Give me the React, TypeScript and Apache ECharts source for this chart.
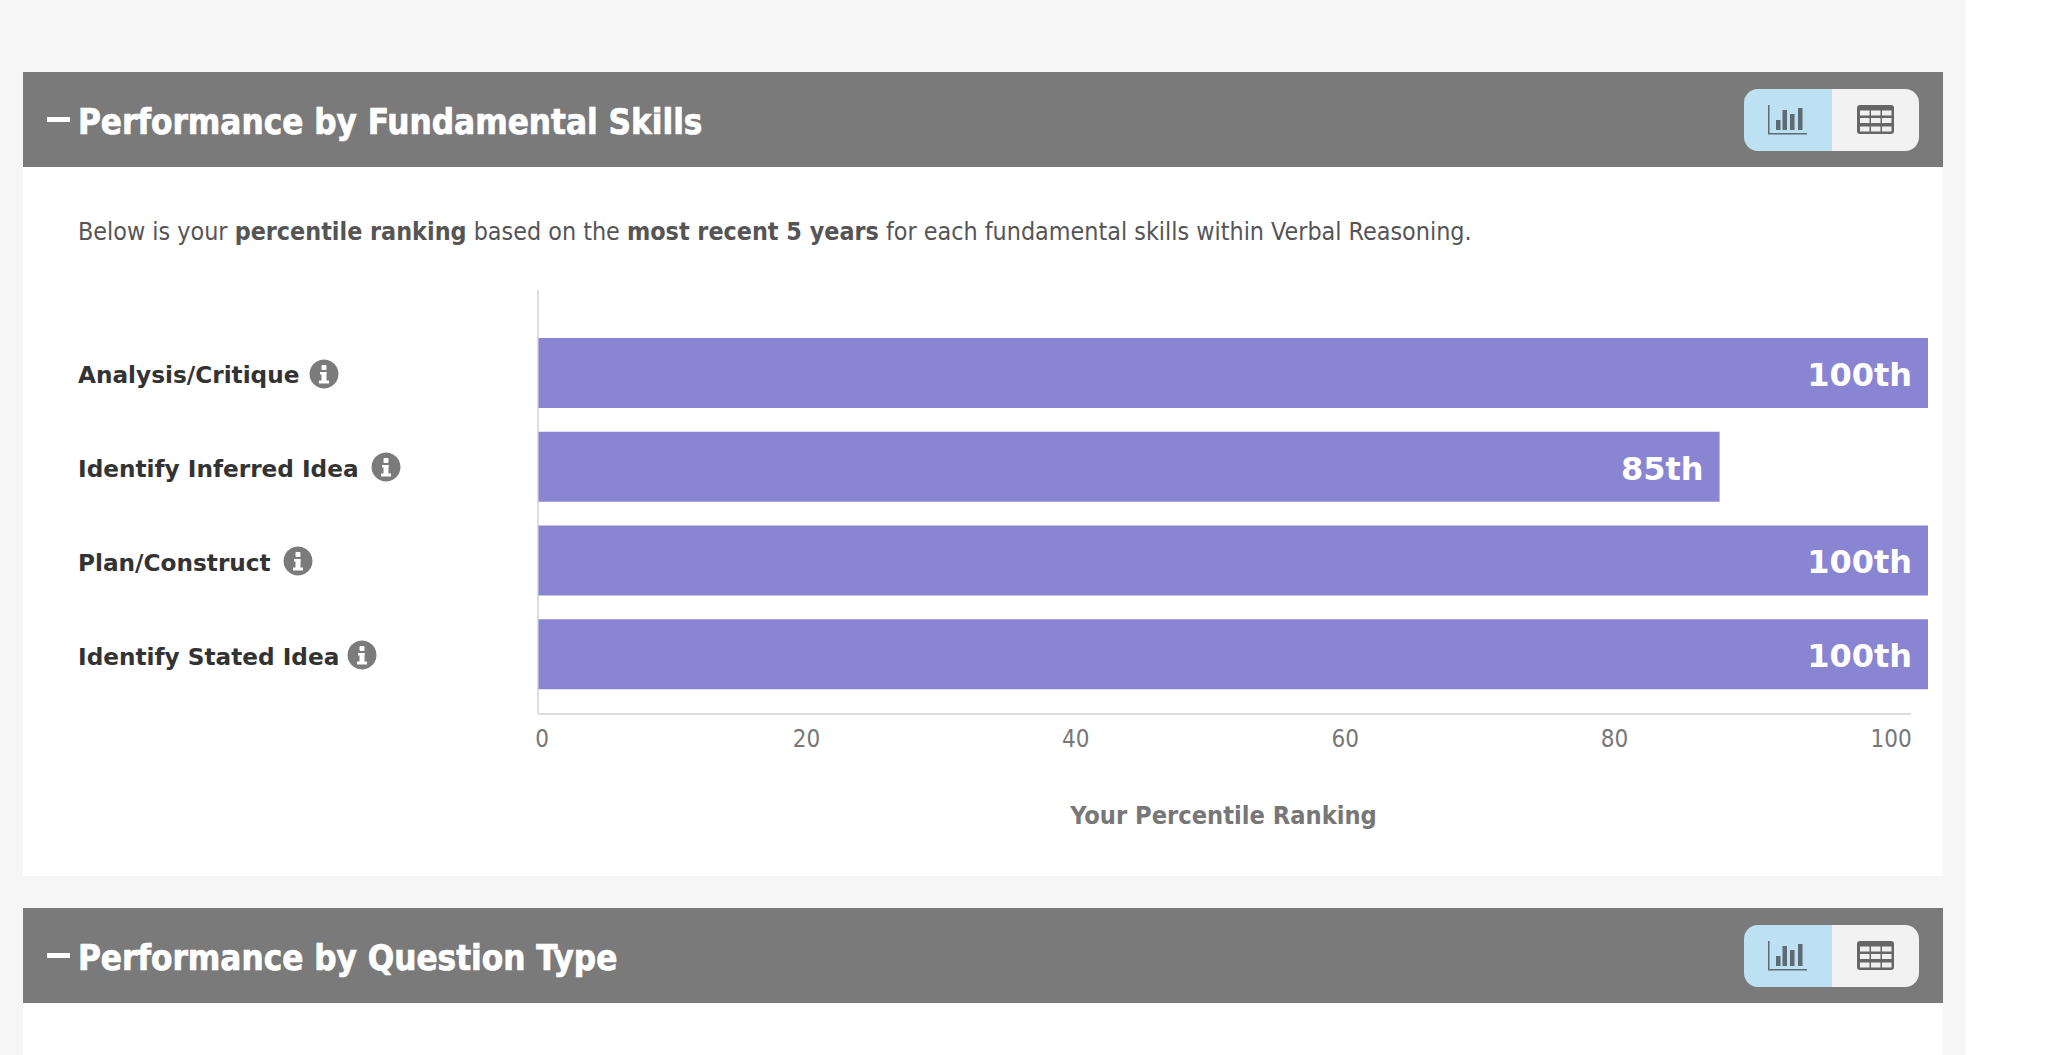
import React, { useEffect, useRef } from "react";
import * as echarts from "echarts";

const categories = ["Analysis/Critique", "Identify Inferred Idea", "Plan/Construct", "Identify Stated Idea"];
const percentiles = [100, 85, 100, 100];
const sectionTitles = ["Performance by Fundamental Skills", "Performance by Question Type"];
const descriptionParts = [
  ["n", "Below is your "],
  ["b", "percentile ranking"],
  ["n", " based on the "],
  ["b", "most recent 5 years"],
  ["n", " for each fundamental skills within Verbal Reasoning."],
];
const axisTitle = "Your Percentile Ranking";

const FONT = "'DejaVu Sans Condensed', 'DejaVu Sans', sans-serif";
const LABEL_FONT = "'DejaVu Sans', sans-serif";

function rect(x: number, y: number, w: number, h: number, fill: string, r: number | number[] = 0) {
  return { type: "rect", silent: true, shape: { x, y, width: w, height: h, r }, style: { fill } };
}

function toggle(dy: number) {
  const c = "#5d6b75";
  const t = "#666666";
  const out: any[] = [
    rect(1744, 89 + dy, 88, 62, "#bde0f2", [14, 0, 0, 14]),
    rect(1832, 89 + dy, 87, 62, "#f2f2f2", [0, 14, 14, 0]),
    rect(1768, 105 + dy, 1.5, 29, c),
    rect(1768, 133 + dy, 39, 1.5, c),
    rect(1776, 120 + dy, 4.5, 10, c),
    rect(1782.5, 110 + dy, 4.5, 20, c),
    rect(1790, 114 + dy, 4.5, 16, c),
    rect(1798, 108 + dy, 4.5, 22, c),
    rect(1857, 105 + dy, 37, 29, t, 3),
  ];
  [1860, 1871, 1882].forEach((x) =>
    [110.5, 118, 126.5].forEach((y) => out.push(rect(x, y + dy, 9.5, 5, "#f0f0f0")))
  );
  return out;
}

function header(dy: number, title: string) {
  return [
    rect(23, 72 + dy, 1920, 95, "#7a7a7a"),
    rect(47, 117 + dy, 23, 5, "#ffffff"),
    {
      type: "text",
      silent: true,
      x: 78,
      y: 122 + dy,
      style: {
        text: title,
        fill: "#ffffff",
        stroke: "#ffffff",
        lineWidth: 0.7,
        font: `bold 34.7px ${FONT}`,
        textVerticalAlign: "middle",
      },
    },
    ...toggle(dy),
  ];
}

function infoIcon(cx: number, cy: number) {
  return [
    { type: "circle", silent: true, shape: { cx, cy, r: 14.5 }, style: { fill: "#7b7b7b" } },
    rect(cx - 2.5, cy - 9, 5, 5, "#ffffff", 1),
    rect(cx - 4, cy - 2, 6.5, 2.5, "#ffffff"),
    rect(cx - 2.5, cy - 2, 5, 9, "#ffffff"),
    rect(cx - 5, cy + 6.5, 10, 3, "#ffffff"),
  ];
}

const iconCenters = [
  [324, 374],
  [386, 467],
  [298, 561],
  [362, 655],
];

export default function App() {
  const ref = useRef<HTMLDivElement>(null);
  useEffect(() => {
    const chart = echarts.init(ref.current!, undefined, { renderer: "svg" });
    const graphics: any[] = [
      rect(0, 0, 1966, 1055, "#f6f6f6"),
      rect(23, 167, 1920, 709, "#ffffff"),
      rect(23, 1003, 1920, 52, "#ffffff"),
      ...header(0, sectionTitles[0]),
      ...header(836, sectionTitles[1]),
      {
        type: "text",
        silent: true,
        x: 78,
        y: 231,
        style: {
          text: descriptionParts.map(([k, s]) => `{${k}|${s}}`).join(""),
          textVerticalAlign: "middle",
          rich: {
            n: { font: `24.85px ${FONT}`, fill: "#555555" },
            b: { font: `bold 24.85px ${FONT}`, fill: "#555555" },
          },
        },
      },
      { type: "line", silent: true, shape: { x1: 538, y1: 290, x2: 538, y2: 714 }, style: { stroke: "#dddddd", lineWidth: 2 } },
      { type: "line", silent: true, shape: { x1: 538, y1: 714, x2: 1911, y2: 714 }, style: { stroke: "#dddddd", lineWidth: 2 } },
      ...iconCenters.flatMap(([x, y]) => infoIcon(x, y)),
    ];
    chart.setOption({
      animation: false,
      backgroundColor: "#ffffff",
      graphic: { elements: graphics.map((g) => ({ ...g, z: 0 })) },
      grid: [
        { left: 538.5, top: 326, width: 1389.5, height: 375, containLabel: false },
        { left: 537, top: 290, width: 1347, height: 423, containLabel: false },
      ],
      xAxis: [
        { type: "value", gridIndex: 0, min: 0, max: 100, show: false },
        {
          type: "value",
          gridIndex: 1,
          min: 0,
          max: 100,
          interval: 20,
          axisLine: { show: false },
          axisTick: { show: false },
          splitLine: { show: false },
          axisLabel: {
            margin: 14,
            color: "#777777",
            fontFamily: FONT,
            fontSize: 24,
            formatter: (v: number) => (v === 0 ? `{a|${v}}` : v === 100 ? `{c|${v}}` : `{t|${v}}`),
            rich: {
              a: { padding: [0, 0, 0, 10], color: "#777777", fontFamily: FONT, fontSize: 24 },
              c: { padding: [0, 0, 0, 14], color: "#777777", fontFamily: FONT, fontSize: 24 },
              t: { color: "#777777", fontFamily: FONT, fontSize: 24 },
            },
          },
          name: axisTitle,
          nameLocation: "middle",
          nameGap: 90,
          nameTextStyle: { color: "#777777", fontFamily: FONT, fontWeight: "bold", fontSize: 25.2, padding: [0, 0, 0, 26] },
        },
      ],
      yAxis: [
        {
          type: "category",
          gridIndex: 0,
          inverse: true,
          data: categories,
          axisLine: { show: false },
          axisTick: { show: false },
          axisLabel: {
            margin: 460.5,
            align: "left",
            formatter: (v: string) => `{l|${v}}`,
            rich: {
              l: {
                color: "#333333",
                fontFamily: LABEL_FONT,
                fontWeight: "bold",
                fontSize: 23.2,
                padding: [4, 0, 0, 0],
              },
            },
          },
        },
        { type: "value", gridIndex: 1, min: 0, max: 1, show: false },
      ],
      series: [
        {
          type: "bar",
          xAxisIndex: 0,
          yAxisIndex: 0,
          barWidth: 70,
          data: percentiles,
          z: 5,
          itemStyle: { color: "#8a85d3" },
          label: {
            show: true,
            position: "insideRight",
            distance: 16,
            offset: [0, 2],
            color: "#ffffff",
            fontFamily: LABEL_FONT,
            fontWeight: "bold",
            fontSize: 32,
            formatter: (p: any) => `${p.value}th`,
          },
        },
      ],
    });
    return () => chart.dispose();
  }, []);
  return <div ref={ref} style={{ position: "absolute", left: 0, top: 0, width: 2048, height: 1055 }} />;
}
